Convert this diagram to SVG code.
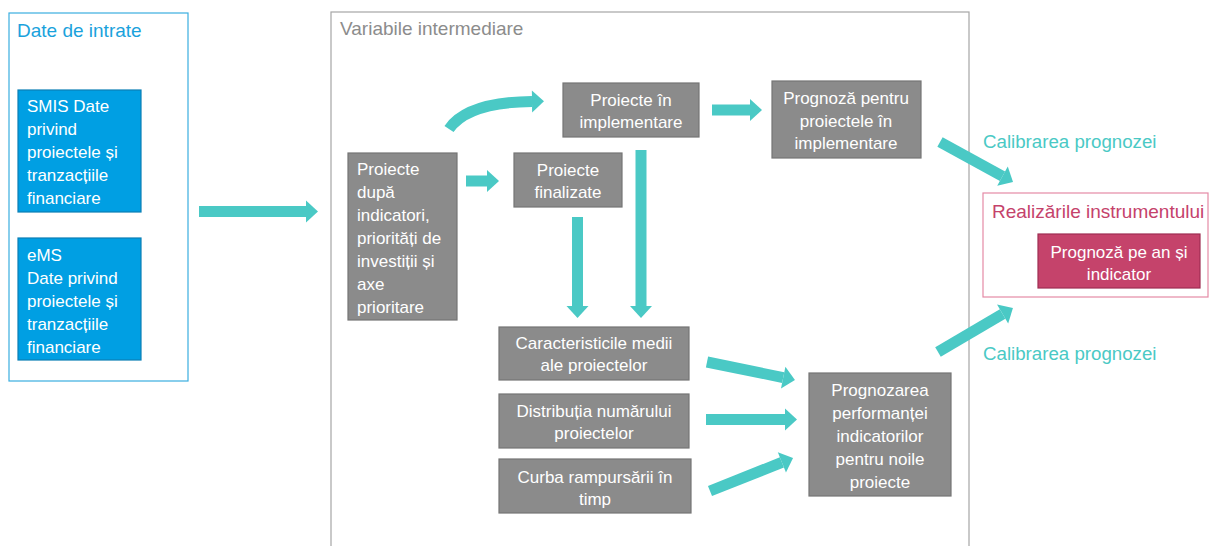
<svg xmlns="http://www.w3.org/2000/svg" width="1212" height="546" viewBox="0 0 1212 546">
<style>
text{font-family:"Liberation Sans",Arial,sans-serif;}
.t{font-size:17px;fill:#ffffff;}
.c{text-anchor:middle;}
.g{fill:#8b8b8b;stroke:#757575;stroke-width:1.2;}
.b{fill:#009fe3;stroke:#0b7fb5;stroke-width:1.2;}
.p{fill:#c5436b;stroke:#9e2d52;stroke-width:1.2;}
.ar{stroke:#4ac9c5;stroke-width:11;fill:none;marker-end:url(#ah);}
.cal{font-size:18.7px;fill:#4ac9c5;}
</style>
<defs>
<marker id="ah" markerUnits="userSpaceOnUse" markerWidth="14" markerHeight="24" refX="0" refY="12" orient="auto" overflow="visible">
<path d="M0,1 L12,12 L0,23 Z" fill="#4ac9c5"/>
</marker>
</defs>

<g id="input-group">
<rect x="9" y="13" width="179" height="368" fill="#ffffff" stroke="#3aaee0" stroke-width="1.2"/>
<text x="17" y="37" style="font-size:19px;fill:#1aa2dc">Date de intrate</text>
</g>
<g id="smis">
<rect class="b" x="18" y="90" width="123" height="122"/>
<text class="t" x="27" y="112"><tspan x="27">SMIS Date</tspan><tspan x="27" dy="23">privind</tspan><tspan x="27" dy="23">proiectele și</tspan><tspan x="27" dy="23">tranzacțiile</tspan><tspan x="27" dy="23">financiare</tspan></text>
</g>
<g id="ems">
<rect class="b" x="18" y="238" width="123" height="122"/>
<text class="t" x="27" y="261"><tspan x="27">eMS</tspan><tspan x="27" dy="23">Date privind</tspan><tspan x="27" dy="23">proiectele și</tspan><tspan x="27" dy="23">tranzacțiile</tspan><tspan x="27" dy="23">financiare</tspan></text>
</g>

<g id="intermediate-group">
<rect x="331" y="12" width="638" height="545" fill="#ffffff" stroke="#a6a6a6" stroke-width="1.2"/>
<text x="340" y="35" style="font-size:19px;fill:#8c8c8c">Variabile intermediare</text>
</g>

<g id="proiecte-dupa">
<rect class="g" x="348" y="153" width="109" height="167"/>
<text class="t" x="357" y="175"><tspan x="357">Proiecte</tspan><tspan x="357" dy="23">după</tspan><tspan x="357" dy="23">indicatori,</tspan><tspan x="357" dy="23">priorități de</tspan><tspan x="357" dy="23">investiții și</tspan><tspan x="357" dy="23">axe</tspan><tspan x="357" dy="23">prioritare</tspan></text>
</g>
<g id="proiecte-implementare">
<rect class="g" x="563" y="83" width="136" height="54"/>
<text class="t c" x="631" y="106"><tspan x="631">Proiecte în</tspan><tspan x="631" dy="22">implementare</tspan></text>
</g>
<g id="proiecte-finalizate">
<rect class="g" x="514" y="153" width="108" height="54"/>
<text class="t c" x="568" y="176"><tspan x="568">Proiecte</tspan><tspan x="568" dy="22">finalizate</tspan></text>
</g>
<g id="prognoza-implementare">
<rect class="g" x="772" y="81" width="149" height="77"/>
<text class="t c" x="846" y="104"><tspan x="846">Prognoză pentru</tspan><tspan x="846" dy="22.5">proiectele în</tspan><tspan x="846" dy="22.5">implementare</tspan></text>
</g>
<g id="caracteristici">
<rect class="g" x="499" y="327" width="190" height="53"/>
<text class="t c" x="594" y="349"><tspan x="594">Caracteristicile medii</tspan><tspan x="594" dy="22">ale proiectelor</tspan></text>
</g>
<g id="distributia">
<rect class="g" x="499" y="394" width="190" height="54"/>
<text class="t c" x="594" y="417"><tspan x="594">Distribuția numărului</tspan><tspan x="594" dy="22">proiectelor</tspan></text>
</g>
<g id="curba">
<rect class="g" x="499" y="459" width="192" height="54"/>
<text class="t c" x="595" y="483"><tspan x="595">Curba rampursării în</tspan><tspan x="595" dy="22">timp</tspan></text>
</g>
<g id="prognozarea">
<rect class="g" x="809" y="373" width="142" height="123"/>
<text class="t c" x="880" y="396"><tspan x="880">Prognozarea</tspan><tspan x="880" dy="23">performanței</tspan><tspan x="880" dy="23">indicatorilor</tspan><tspan x="880" dy="23">pentru noile</tspan><tspan x="880" dy="23">proiecte</tspan></text>
</g>

<g id="realizari-group">
<rect x="983" y="193" width="225" height="104" fill="#ffffff" stroke="#e48aa6" stroke-width="1.2"/>
<text x="992" y="218" style="font-size:19px;fill:#c5426b">Realizările instrumentului</text>
</g>
<g id="prognoza-an">
<rect class="p" x="1038" y="234" width="162" height="54"/>
<text class="t c" x="1119" y="258"><tspan x="1119">Prognoză pe an și</tspan><tspan x="1119" dy="22">indicator</tspan></text>
</g>

<g id="connectors">
<line class="ar" x1="199" y1="211.5" x2="306" y2="211.5"/>
<path class="ar" d="M449,129 C462,110 490,102 532,101.5"/>
<line class="ar" x1="466" y1="181" x2="487" y2="181"/>
<line class="ar" x1="577.5" y1="217" x2="577.5" y2="306"/>
<line class="ar" x1="641" y1="150" x2="641" y2="306"/>
<line class="ar" x1="712" y1="110" x2="750" y2="110"/>
<line class="ar" x1="940" y1="142" x2="1002.5" y2="176.2"/>
<line class="ar" x1="938" y1="352" x2="1002.6" y2="314.1"/>
<line class="ar" x1="707" y1="362" x2="783.2" y2="377.6"/>
<line class="ar" x1="706" y1="419.5" x2="785" y2="419.5"/>
<line class="ar" x1="710" y1="491" x2="781.9" y2="462.4"/>
</g>

<text class="cal" x="983" y="148">Calibrarea prognozei</text>
<text class="cal" x="983" y="360">Calibrarea prognozei</text>
</svg>
